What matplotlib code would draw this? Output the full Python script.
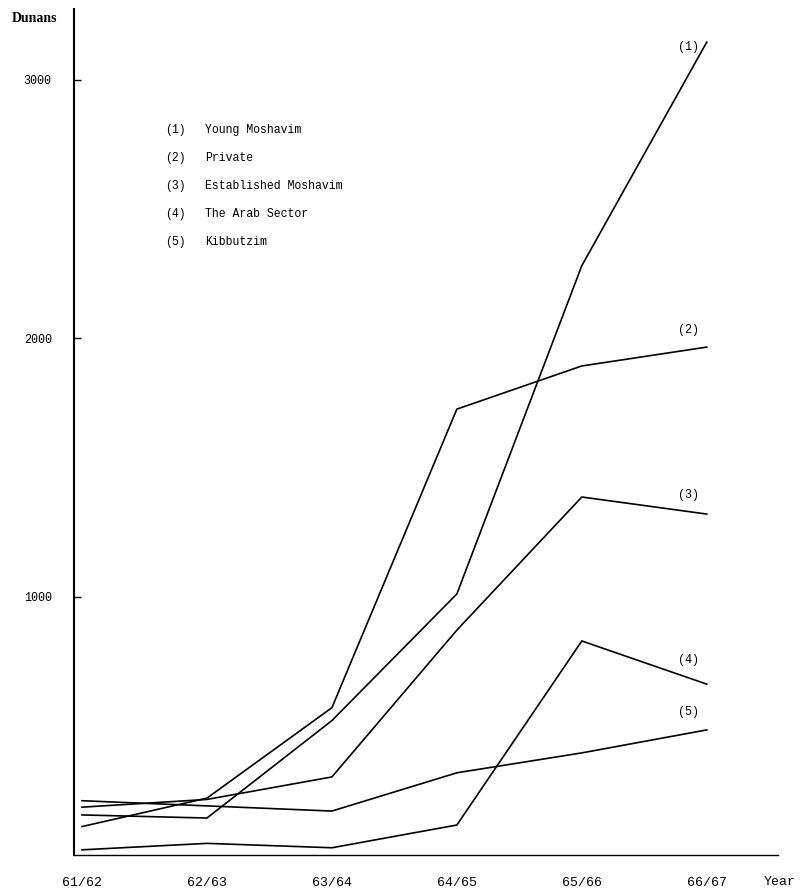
import matplotlib
matplotlib.use("Agg")
import matplotlib.pyplot as plt

years = ["61/62", "62/63", "63/64", "64/65", "65/66", "66/67"]
young_moshavim = [155, 143, 520, 1010, 2280, 3145]
private = [110, 220, 570, 1725, 1892, 1965]
established_moshavim = [185, 215, 302, 870, 1385, 1319]
arab_sector = [20, 45, 28, 116, 828, 661]
kibbutzim = [210, 190, 170, 318, 395, 484]

series = [young_moshavim, private, established_moshavim, arab_sector, kibbutzim]
names = ["Young Moshavim", "Private", "Established Moshavim", "The Arab Sector", "Kibbutzim"]
end_label_y = [3126, 2031, 1393, 754, 553]
yticks = [1000, 2000, 3000]

FONT = "Liberation Mono"
W, H = 812, 893
fig = plt.figure(figsize=(W / 100, H / 100), dpi=100)
ax = fig.add_axes([74 / W, (H - 855) / H, (778 - 74) / W, (855 - 9) / H])

x = list(range(len(years)))
for s in series:
    ax.plot(x, s, color="black", lw=1.2, solid_joinstyle="miter")

for i, yv in enumerate(end_label_y):
    ax.text(4.85, yv, f"({i + 1})", fontsize=8.5, family=FONT, ha="center", va="center")

ax.set_xlim(-0.064, 5.57)
ax.set_ylim(0, 3273)
ax.set_xticks(x)
ax.set_xticklabels(years, family=FONT, fontsize=9.5)
ax.set_yticks(yticks)
ax.set_yticklabels([str(v) for v in yticks], family=FONT, fontsize=8.5)
ax.tick_params(axis="x", length=0, pad=16)
ax.tick_params(axis="y", direction="in", length=5, width=1, pad=16)
for sp in ["top", "right"]:
    ax.spines[sp].set_visible(False)
ax.spines["left"].set_linewidth(1.5)
ax.spines["bottom"].set_linewidth(1.0)

# legend as text block
leg_y = [130, 158, 186, 214, 242]
for i, (nm, yy) in enumerate(zip(names, leg_y)):
    fig.text(165 / W, 1 - yy / H, f"({i + 1})", fontsize=8.3, family=FONT, va="center", ha="left")
    fig.text(205 / W, 1 - yy / H, nm, fontsize=8.3, family=FONT, va="center", ha="left")

fig.text(12 / W, 1 - 18 / H, "Dunans", fontsize=10, family="Liberation Serif", fontweight="bold",
         va="center", ha="left")
fig.text(780 / W, 1 - 882 / H, "Year", fontsize=9.5, family=FONT, va="center", ha="center")

fig.savefig("out.png", dpi=100, facecolor="white")
